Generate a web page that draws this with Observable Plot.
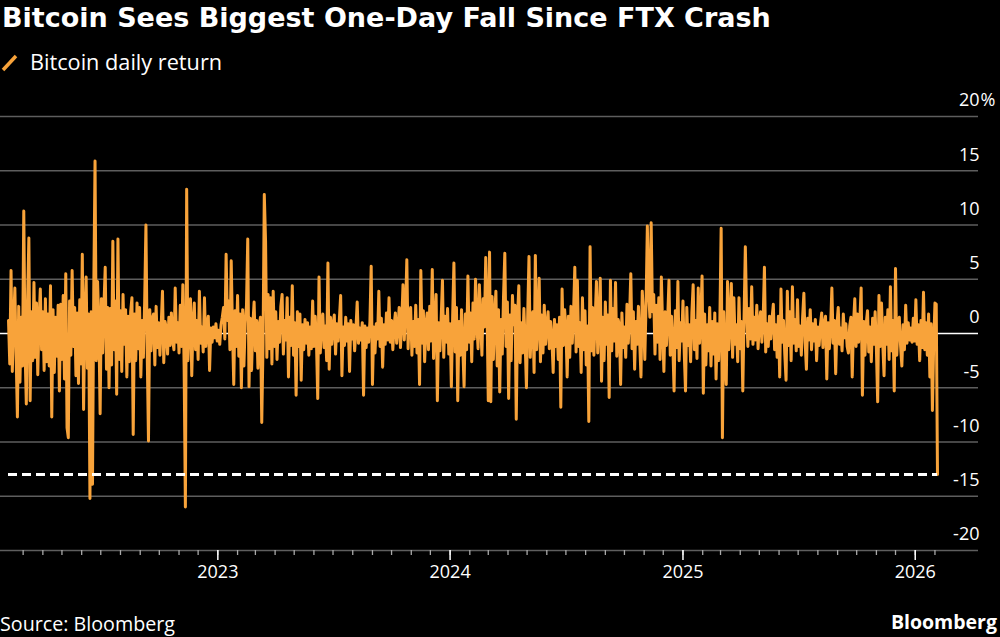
<!DOCTYPE html>
<html>
<head>
<meta charset="utf-8">
<script src="https://cdn.jsdelivr.net/npm/d3@7"></script>
<script src="https://cdn.jsdelivr.net/npm/@observablehq/plot@0.6"></script>
<style>
html,body{margin:0;padding:0;background:#000;}
body{width:1000px;height:637px;position:relative;overflow:hidden;font-family:"Open Sans",sans-serif;color:#fff;}
#title{position:absolute;left:2px;top:1px;font-family:"DejaVu Sans",sans-serif;font-size:27px;font-weight:700;line-height:34px;white-space:nowrap;}
#legendIcon{position:absolute;left:0;top:52px;}
#legendText{position:absolute;left:30px;top:49px;font-size:21.7px;line-height:26px;white-space:nowrap;}
#chart{position:absolute;left:0;top:84px;}
#source{position:absolute;left:0;top:610px;font-size:19.7px;line-height:28px;white-space:nowrap;}
#brand{position:absolute;right:3px;top:608px;font-size:19.5px;font-weight:700;line-height:28px;white-space:nowrap;}
</style>
</head>
<body>
<div id="title">Bitcoin Sees Biggest One-Day Fall Since FTX Crash</div>
<svg id="legendIcon" width="20" height="22"><line x1="3" y1="18" x2="16" y2="4" stroke="#f8a33a" stroke-width="3.5"/></svg>
<div id="legendText">Bitcoin daily return</div>
<div id="chart"></div>
<div id="source">Source: Bloomberg</div>
<div id="brand">Bloomberg</div>
<script>
// Bitcoin daily return (%), sampled every second day, ending 2026-02-05
const returns = [
 1.2,-2.8,5.8,-3.5,1.0,4.2,-2.0,-7.7,2.5,-4.5,1.5,-3.0,11.3,-1.5,-6.5,3.0,8.8,-6.2,2.0,-2.5,
 4.7,-2.2,2.8,-3.8,1.2,4.1,-1.5,2.0,-3.4,3.2,-2.6,1.8,-3.0,4.4,-7.7,2.2,-3.6,1.5,-2.1,2.6,
 -5.3,2.7,-2.4,3.5,-4.2,5.5,-8.7,-9.6,3.0,-2.0,5.8,-1.2,2.4,-3.9,1.9,-4.6,3.1,-2.8,7.3,-7.0,
 1.5,5.2,-3.2,1.8,-15.2,2.0,-13.9,4.0,15.9,-2.5,4.8,0.8,-7.4,3.2,-1.8,2.6,6.1,-3.3,2.4,-5.0,
 2.3,-2.9,8.5,-1.5,3.0,-5.6,8.7,-2.4,2.1,-3.5,3.6,-1.0,2.2,-4.0,1.6,-2.6,2.0,3.3,-9.3,1.8,
 -2.5,2.8,-1.4,2.4,-4.0,1.2,-2.2,3.0,10.0,-1.8,-9.9,2.2,-1.6,1.4,1.8,-2.9,2.5,-1.3,1.0,-2.0,
 0.8,3.9,-2.7,1.1,0.5,-1.9,1.5,-1.1,1.9,-0.6,-1.5,4.2,-0.8,1.0,-1.8,2.6,-1.2,4.5,-3.0,-16.0,
 13.3,-2.5,1.5,3.2,-3.9,0.9,2.8,-1.5,1.2,-2.4,3.9,-0.9,0.6,-1.7,3.3,-1.2,0.8,1.6,-3.4,0.5,
 -0.8,0.6,-0.4,0.9,-0.7,0.3,-1.0,0.8,1.5,2.4,-0.5,7.3,1.2,3.0,-1.5,6.7,0.4,-4.7,2.1,-1.2,
 3.5,-2.1,1.8,-5.0,2.2,-3.0,0.9,2.6,8.7,-4.9,1.4,-3.4,0.8,2.9,-1.6,1.2,-3.2,0.7,1.5,-8.2,
 -1.0,12.8,8.5,-2.2,3.6,-1.4,3.3,-2.8,3.9,-1.2,2.0,-2.4,1.1,-0.8,2.5,3.6,-1.9,1.2,-0.6,3.3,
 -4.0,1.5,-1.1,4.4,-2.0,1.0,-5.7,2.0,-1.2,1.8,-4.3,0.8,-1.5,1.3,-0.9,1.0,-2.0,0.6,-1.4,3.0,
 -1.2,1.6,-0.8,-6.0,5.2,-1.8,0.9,1.8,-1.3,0.7,-2.5,6.5,-3.3,1.5,-1.0,0.8,1.7,-1.9,0.9,-0.7,
 1.3,3.5,-3.9,0.6,-1.1,1.5,-0.7,0.9,-3.5,1.2,-0.5,0.8,-1.6,0.4,2.9,-0.9,0.5,-0.6,1.0,-5.7,
 0.7,-1.3,0.5,-0.8,1.1,6.2,-4.7,0.6,-1.8,0.9,-0.5,3.9,-1.2,1.4,-3.1,0.8,-1.0,1.9,-0.6,3.3,
 -0.8,1.2,-1.5,0.7,1.9,-0.9,0.5,2.4,-1.3,1.0,4.5,-0.6,2.2,6.8,-1.4,1.6,2.4,-2.0,1.1,-1.2,
 2.6,-1.8,1.3,-4.7,5.8,-0.9,2.1,-2.6,0.8,1.9,-1.5,2.5,-0.7,5.9,-2.3,1.2,3.6,-6.2,1.0,-1.6,
 1.4,4.9,-2.2,1.6,-0.8,2.3,-1.9,0.9,-4.9,1.5,6.5,-1.7,2.4,-6.2,1.1,-2.0,2.2,-1.3,-4.9,1.8,
 -1.5,5.3,-0.8,1.9,-2.6,2.8,-0.5,5.0,0.9,-1.4,4.5,1.2,-2.0,3.2,0.6,7.0,2.5,-6.2,7.5,-6.3,
 3.4,-2.4,1.6,3.9,-3.0,2.2,-5.4,1.3,-1.9,3.5,7.4,-1.2,2.9,-6.0,1.7,-2.5,3.5,0.8,2.6,-7.9,
 1.5,4.4,-2.7,1.0,-1.8,2.3,-0.9,-5.0,1.8,7.1,-2.2,1.4,2.0,-3.6,7.2,-1.5,0.9,5.1,-2.6,1.7,
 -1.8,2.6,-1.0,0.6,2.0,-1.4,1.1,-0.5,-3.6,1.3,-1.2,0.8,-2.4,1.5,-6.8,4.1,-1.1,2.2,0.5,-4.0,
 1.6,-2.2,2.5,-0.9,1.8,6.1,-1.7,4.9,-1.2,1.0,-3.6,3.3,-1.5,2.1,-2.9,0.7,-8.1,8.0,-1.6,2.4,
 -2.0,1.2,4.8,-1.8,0.9,5.1,-4.4,1.5,-2.5,2.9,-1.0,1.7,-5.9,4.9,-1.6,2.3,-0.7,4.7,-2.1,1.3,
 0.8,-4.7,1.9,-1.3,0.6,-2.2,2.7,-0.9,1.5,5.5,-1.4,2.0,-3.3,1.1,-1.0,2.5,-0.8,-4.0,3.9,1.6,
 -2.4,2.8,9.9,3.9,1.5,10.2,2.0,3.6,-1.9,2.6,-0.8,3.3,-2.4,5.2,0.7,-3.5,2.0,-1.1,1.4,4.9,
 -2.0,1.6,-0.9,-5.3,2.1,-1.3,4.8,-2.5,1.0,-0.7,3.0,-1.8,-5.3,2.4,-1.1,0.8,-2.6,1.9,4.5,-1.5,
 1.2,-2.3,4.2,-0.9,1.5,5.3,-5.5,1.8,-2.9,0.8,-1.6,2.4,-3.0,1.1,-1.9,1.9,-4.2,0.9,-2.5,1.3,
 9.7,-9.6,2.0,-2.4,-4.7,4.8,-1.5,1.2,4.6,-2.2,3.3,-1.0,0.8,-2.6,3.3,-1.4,1.1,-5.3,1.5,8.0,
 1.8,-1.2,2.3,-0.5,4.3,-1.0,1.5,-0.6,2.6,-1.4,1.0,2.0,-0.8,1.3,6.1,-1.7,0.9,-1.2,1.6,-0.5,
 1.4,2.7,-1.5,0.8,-2.2,1.6,-4.0,4.1,-0.8,1.2,-1.9,-4.3,3.9,-1.1,2.0,-2.5,4.3,-0.9,1.3,-1.6,
 3.1,-1.2,0.7,-2.0,1.5,3.7,-0.8,-3.3,1.4,-0.6,2.2,-1.5,0.9,-0.7,1.3,-2.5,0.6,-1.1,0.8,1.9,
 -1.3,0.9,1.6,-4.2,1.0,-1.4,0.6,4.2,-0.9,1.2,-3.7,0.8,2.4,-1.0,0.5,-1.6,1.8,-0.4,0.9,-1.2,
 -1.8,0.7,1.5,-4.0,0.9,3.2,-1.2,1.8,-0.8,1.3,4.2,-5.7,1.1,-2.0,0.9,2.1,-1.7,0.6,-2.6,1.4,
 -1.0,2.0,-1.5,-6.3,3.5,-1.2,2.8,-0.9,-3.9,1.5,-1.0,2.2,-2.4,4.3,-1.6,1.2,-5.3,6.0,-2.0,1.0,
 1.5,-1.2,-3.0,0.8,-1.5,2.6,-0.9,1.0,-0.6,0.5,-0.8,1.4,-0.7,3.1,-1.0,0.8,-2.5,1.2,-1.3,3.8,
 -1.5,1.0,-2.0,1.8,-4.0,0.9,-7.1,-1.0,2.8,2.7,-13.0
];
const lastDate = new Date(Date.UTC(2026, 1, 5));
const stepDays = 2;
const yTicks = [20, 15, 10, 5, 0, -5, -10, -15, -20];
const yearTicks = [2023, 2024, 2025, 2026].map(y => new Date(Date.UTC(y, 0, 1)));
const monthTicks = d3.utcMonth.range(new Date(Date.UTC(2022, 2, 1)), new Date(Date.UTC(2026, 1, 2)));

const n = returns.length;
const data = returns.map((v, i) => ({date: d3.utcDay.offset(lastDate, -stepDays * (n - 1 - i)), ret: v}));
const first = data[0], last = data[n - 1];

const chart = Plot.plot({
  width: 1000,
  height: 512,
  marginTop: 32,
  marginBottom: 46,
  marginLeft: 8,
  marginRight: 63,
  style: {background: "#000", color: "#fff", fontFamily: "Open Sans, sans-serif", fontSize: "18px", overflow: "visible"},
  x: {type: "utc", domain: [first.date, last.date], axis: null},
  y: {domain: [-20, 20], axis: null},
  marks: [
    Plot.ruleY(yTicks.filter(d => d !== 0), {y: d => d, stroke: "#5e5e5e", strokeWidth: 1.5, insetLeft: -8, insetRight: -41}),
    Plot.ruleY([0], {y: d => d, stroke: "#ffffff", strokeWidth: 1.5, insetLeft: -8, insetRight: -41}),
    Plot.axisX(monthTicks, {tickSize: 5, tickFormat: () => "", stroke: "#a8a8a8", strokeWidth: 1.3, label: null}),
    Plot.axisX(yearTicks, {tickSize: 10, tickPadding: 5, tickFormat: "%Y", stroke: "#ffffff", strokeWidth: 1.5, fill: "#fff", fontSize: 18, label: null}),
    Plot.text(yTicks, {y: d => d, text: d => String(d), frameAnchor: "right", textAnchor: "end", dx: 42, dy: -16, fill: "#fff", fontSize: 18}),
    Plot.text([20], {y: d => d, text: () => "%", frameAnchor: "right", textAnchor: "start", dx: 43, dy: -16, fill: "#fff", fontSize: 18}),
    Plot.lineY(data, {x: "date", y: "ret", stroke: "#f8a33a", strokeWidth: 3}),
    Plot.ruleY([last], {y: "ret", x1: () => first.date, x2: () => last.date, stroke: "#fff", strokeWidth: 3, strokeDasharray: "9,5"})
  ]
});
document.getElementById("chart").appendChild(chart);
</script>
</body>
</html>
